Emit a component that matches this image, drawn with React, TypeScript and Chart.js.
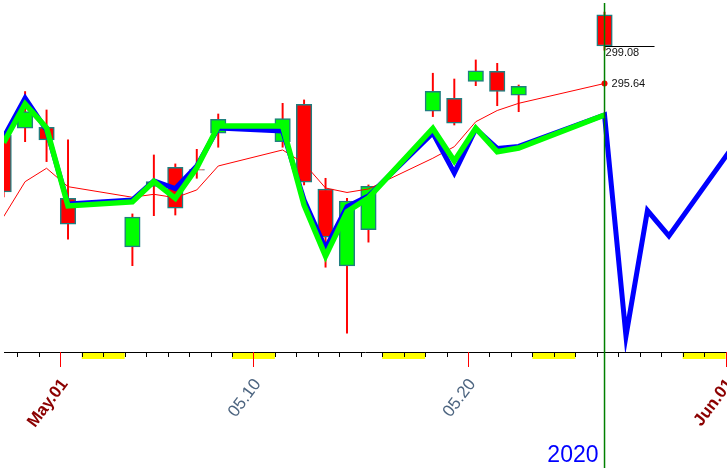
import React, { useEffect, useRef } from 'react';
import { Chart, registerables } from 'chart.js';

Chart.register(...registerables);

// ---------------- data ----------------
const dates = ['2020-04-28', '2020-04-29', '2020-04-30', '2020-05-01', '2020-05-04', '2020-05-05', '2020-05-06', '2020-05-07', '2020-05-08', '2020-05-11', '2020-05-12', '2020-05-13', '2020-05-14', '2020-05-15', '2020-05-18', '2020-05-19', '2020-05-20', '2020-05-21', '2020-05-22', '2020-05-26'];
const opens = [290.91, 291.53, 291.62, 285.11, 280.64, 286.64, 287.95, 287.75, 291.07, 290.3, 293.73, 285.96, 278.9, 282.22, 293.09, 294.28, 295.84, 296.76, 294.56, 301.93];
const highs = [291.22, 294.9, 293.21, 290.46, 283.67, 289.08, 288.26, 289.6, 292.84, 293.82, 294.13, 286.94, 285.11, 286.33, 296.58, 296.05, 297.8, 297.49, 295.5, 302.19];
const lows = [285.23, 290.3, 288.47, 281.35, 278.92, 283.51, 283.57, 286.94, 289.79, 289.79, 286.33, 278.78, 272.72, 281.08, 292.6, 291.83, 295.44, 293.6, 293.05, 298.69];
const closes = [285.69, 293.05, 290.46, 282.72, 283.37, 286.19, 284.19, 287.68, 292.36, 292.43, 286.58, 281.53, 284.86, 286.2, 294.92, 291.99, 296.81, 294.92, 295.38, 299.08];
const maValues = [283.42, 286.63, 287.86, 286.17, 285.2, 285.47, 285.16, 285.87, 288.07, 289.54, 288.3, 286.05, 285.64, 285.96, 288.78, 289.84, 292.13, 293.16, 293.82, 295.64];
const greenValues = [290.21, 293.76, 291.56, 284.4, 284.77, 286.65, 285.1, 287.89, 291.74, 291.74, 284.49, 279.8, 283.88, 285.14, 291.52, 288.53, 291.53, 289.37, 289.72, 292.75];
const blueDates = [...dates, '2020-05-27', '2020-05-28', '2020-05-29', '2020-06-01'];
const blueValues = [290.69, 294.31, 291.37, 284.58, 284.95, 286.7, 286.0, 288.07, 291.56, 291.28, 284.95, 280.51, 284.34, 285.32, 291.1, 287.43, 291.47, 289.68, 289.86, 292.75, 272.47, 283.98, 281.65, 289.91];
const labelDates = ['2020-05-01', '2020-05-10', '2020-05-20', '2020-06-01'];
const labelTexts = ['May.01', '05.10', '05.20', 'Jun.01'];
const labelIsMonth = [true, false, false, true];
const yearText = '2020';

// ---------------- layout / style constants ----------------
const DAY = 86400000;
const BASE = Date.UTC(2020, 4, 1);
const dayOf = (s: string) => (Date.parse(s + 'T00:00:00Z') - BASE) / DAY;
const X_MIN = -2.623;
const X_MAX = 31.067;
const Y_MIN = 271.0;
const Y_MAX = 303.3;
const CANDLE_SHIFT = 0.36;
const LABEL_SHIFT = 0.2;
const FONT = 'Arial, "Liberation Sans", sans-serif';

const labelValues = labelDates.map((d) => dayOf(d) + LABEL_SHIFT);
const labelDaySet = new Set(labelDates.map((d) => dayOf(d)));

const decorPlugin = {
  id: 'decor',
  afterDraw(chart: any) {
    const { ctx, chartArea } = chart;
    const xs = chart.scales.x;
    const ys = chart.scales.y;
    const axisY = chartArea.bottom;
    ctx.save();
    // weekend bars
    ctx.fillStyle = '#ffff00';
    for (let d = Math.floor(X_MIN) - 2; d <= X_MAX; d++) {
      const wd = new Date(BASE + d * DAY).getUTCDay();
      if (wd === 6) {
        const x0 = Math.max(xs.getPixelForValue(d), chartArea.left);
        const x1 = Math.min(xs.getPixelForValue(d + 2), chartArea.right);
        if (x1 > x0) ctx.fillRect(x0, axisY + 1, x1 - x0, 6);
      }
    }
    // axis line
    ctx.strokeStyle = '#000';
    ctx.lineWidth = 1;
    ctx.beginPath();
    ctx.moveTo(chartArea.left, axisY + 0.5);
    ctx.lineTo(chartArea.right, axisY + 0.5);
    ctx.stroke();
    // day ticks
    for (let d = Math.ceil(X_MIN); d <= Math.floor(X_MAX); d++) {
      const px = Math.round(xs.getPixelForValue(d)) + 0.5;
      const isLab = labelDaySet.has(d);
      ctx.strokeStyle = isLab ? '#ff0000' : '#000';
      ctx.beginPath();
      ctx.moveTo(px, axisY);
      ctx.lineTo(px, axisY + (isLab ? 15 : 5));
      ctx.stroke();
    }
    // last bar marker
    const last = dates.length - 1;
    const vx = xs.getPixelForValue(dayOf(dates[last]) + CANDLE_SHIFT);
    const closeY = ys.getPixelForValue(closes[last]);
    const maY = ys.getPixelForValue(maValues[last]);
    ctx.strokeStyle = '#000';
    ctx.lineWidth = 1;
    ctx.beginPath();
    ctx.moveTo(vx, Math.round(closeY) + 0.5);
    ctx.lineTo(vx + 50, Math.round(closeY) + 0.5);
    ctx.stroke();
    ctx.fillStyle = '#111';
    ctx.font = '11px ' + FONT;
    ctx.textAlign = 'left';
    ctx.textBaseline = 'middle';
    ctx.fillText(closes[last].toFixed(2), vx + 1, closeY + 7);
    ctx.fillText(maValues[last].toFixed(2), vx + 7, maY);
    // vertical marker line
    ctx.strokeStyle = '#008000';
    ctx.lineWidth = 1.5;
    ctx.beginPath();
    ctx.moveTo(vx, 3);
    ctx.lineTo(vx, chart.height);
    ctx.stroke();
    // year
    ctx.fillStyle = '#0000ff';
    ctx.font = '23px ' + FONT;
    ctx.textAlign = 'right';
    ctx.textBaseline = 'alphabetic';
    ctx.fillText(yearText, vx - 6, 462);
    ctx.restore();
  },
};

export default function App() {
  const ref = useRef<HTMLCanvasElement>(null);
  useEffect(() => {
    document.body.style.margin = '0';
    const candleX = dates.map((d) => dayOf(d) + CANDLE_SHIFT);
    const lastIdx = dates.length - 1;
    const chart = new Chart(ref.current as HTMLCanvasElement, {
      type: 'line',
      data: {
        datasets: [
          {
            type: 'line',
            data: candleX.map((x, i) => ({ x, y: greenValues[i] })),
            borderColor: '#00ff00',
            borderWidth: 5.5,
            pointRadius: 0,
            tension: 0,
            borderJoinStyle: 'miter',
            borderCapStyle: 'butt',
            clip: 0,
            order: 1,
          } as any,
          {
            type: 'line',
            data: blueDates.map((d, i) => ({ x: dayOf(d) + CANDLE_SHIFT, y: blueValues[i] })),
            borderColor: '#0000ff',
            borderWidth: 5,
            pointRadius: 0,
            tension: 0,
            borderJoinStyle: 'miter',
            borderCapStyle: 'butt',
            clip: 0,
            order: 2,
          } as any,
          {
            type: 'line',
            data: candleX.map((x, i) => ({ x, y: maValues[i] })),
            borderColor: '#ff0000',
            borderWidth: 1,
            pointRadius: (c: any) => (c.dataIndex === lastIdx ? 3 : 0),
            pointBackgroundColor: '#ff0000',
            pointBorderWidth: 0,
            tension: 0,
            clip: 0,
            order: 3,
          } as any,
          {
            type: 'bar',
            data: candleX.map((x, i) => ({ x, y: [opens[i], closes[i]] })),
            backgroundColor: (c: any) => (closes[c.dataIndex] >= opens[c.dataIndex] ? '#00ff00' : '#ff0000'),
            borderColor: '#1f7f80',
            borderWidth: 1.5,
            borderSkipped: false,
            barThickness: 15.5,
            grouped: false,
            clip: 0,
            order: 9,
          } as any,
          {
            type: 'bar',
            data: candleX.map((x, i) => ({ x, y: [lows[i], highs[i]] })),
            backgroundColor: '#ff0000',
            borderWidth: 0,
            barThickness: 1.3,
            grouped: false,
            clip: 0,
            order: 10,
          } as any,
        ],
      },
      options: {
        responsive: false,
        devicePixelRatio: 1,
        animation: false,
        events: [],
        layout: { autoPadding: false, padding: { left: 4, right: 0, top: 0, bottom: 0 } },
        plugins: { legend: { display: false }, tooltip: { enabled: false } },
        scales: {
          x: {
            type: 'linear',
            min: X_MIN,
            max: X_MAX,
            offset: false,
            grid: { display: false, drawTicks: false },
            border: { display: false },
            afterBuildTicks: (scale: any) => {
              scale.ticks = labelValues.map((v) => ({ value: v }));
            },
            afterFit: (scale: any) => {
              scale.height = 116;
              scale.paddingLeft = 0;
              scale.paddingRight = 0;
            },
            ticks: {
              autoSkip: false,
              minRotation: 53,
              maxRotation: 53,
              padding: 23,
              callback: (v: any) => {
                const i = labelValues.findIndex((lv) => Math.abs(lv - Number(v)) < 1e-6);
                return i >= 0 ? labelTexts[i] : '';
              },
              color: (c: any) => (labelIsMonth[c.index] ? '#8b0000' : '#4d6580'),
              font: (c: any) => ({ family: FONT, size: 17, weight: labelIsMonth[c.index] ? 'bold' : 'normal' }),
            },
          } as any,
          y: { type: 'linear', display: false, min: Y_MIN, max: Y_MAX },
        },
      },
      plugins: [decorPlugin],
    });
    return () => chart.destroy();
  }, []);
  return (
    <div style={{ position: 'absolute', left: 0, top: 0, width: 727, height: 468 }}>
      <canvas ref={ref} width={727} height={468} style={{ display: 'block' }} />
    </div>
  );
}
